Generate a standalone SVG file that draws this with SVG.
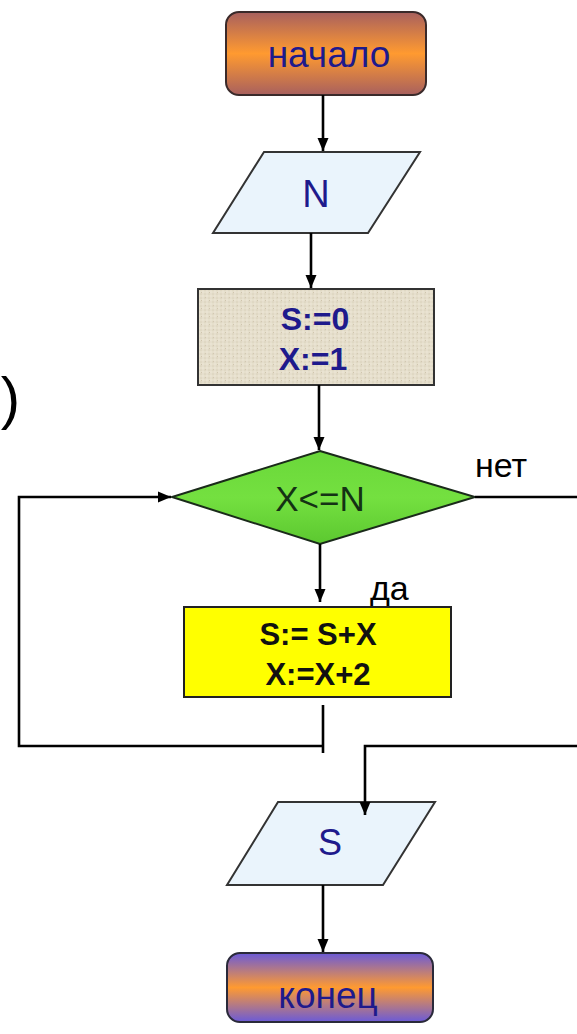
<svg xmlns="http://www.w3.org/2000/svg" width="577" height="1034" viewBox="0 0 577 1034">
<style>
.lbl{font-family:"Liberation Sans",Arial,sans-serif;}
.conn{fill:none;stroke:#000;stroke-width:2.6;}
.box{stroke:#333;stroke-width:2;}
.navy{fill:#1e1a8c;}
</style>
<defs>
<marker id="arr" markerUnits="userSpaceOnUse" markerWidth="14" markerHeight="14" viewBox="0 0 14 14" refX="13" refY="7" orient="auto">
<path d="M0,1.5 L13,7 L0,12.5 Z" fill="#000"/>
</marker>
<linearGradient id="gStart" x1="0" y1="0" x2="0" y2="1">
<stop offset="0" stop-color="#a8605e"/>
<stop offset="0.5" stop-color="#ff9a30"/>
<stop offset="1" stop-color="#a8605e"/>
</linearGradient>
<linearGradient id="gEnd" x1="0" y1="0" x2="0" y2="1">
<stop offset="0" stop-color="#6a5ad8"/>
<stop offset="0.5" stop-color="#ff9a30"/>
<stop offset="1" stop-color="#6a5ad8"/>
</linearGradient>
<linearGradient id="gDia" x1="0" y1="0" x2="0" y2="1">
<stop offset="0" stop-color="#6ad83a"/>
<stop offset="0.5" stop-color="#74e040"/>
<stop offset="1" stop-color="#5cc830"/>
</linearGradient>
<pattern id="tex" width="8" height="8" patternUnits="userSpaceOnUse">
<rect width="8" height="8" fill="#e6dfcc"/>
<path d="M0,2 H8 M0,6 H8" stroke="#d6cdb8" stroke-width="0.8"/>
<path d="M3,0 V8 M7,0 V8" stroke="#efe9da" stroke-width="0.8"/>
<rect x="1" y="4" width="1" height="1" fill="#cfc5ae"/>
<rect x="5" y="1" width="1" height="1" fill="#d2c8b2"/>
</pattern>
</defs>

<g id="start">
<rect x="226" y="12" width="200" height="83" rx="13" fill="url(#gStart)" stroke="#3a2a2a" stroke-width="2"/>
<text class="lbl navy" x="329" y="67" font-size="37" text-anchor="middle">начало</text>
</g>

<g id="inputN">
<polygon class="box" points="264,152 420,152 368,233 213,233" fill="#eaf4fc"/>
<text class="lbl navy" x="316" y="207" font-size="38" text-anchor="middle">N</text>
</g>

<g id="init">
<rect class="box" x="198" y="289" width="236" height="96" fill="url(#tex)"/>
<text class="lbl navy" x="315" y="330" font-size="32" font-weight="bold" text-anchor="middle">S:=0</text>
<text class="lbl navy" x="313" y="370" font-size="32" font-weight="bold" text-anchor="middle">X:=1</text>
</g>

<g id="cond">
<polygon points="320,451 475,497 320,544 172,497" fill="url(#gDia)" stroke="#1a2a1a" stroke-width="2"/>
<text class="lbl" x="320" y="511" font-size="35" text-anchor="middle" fill="#143214">X&lt;=N</text>
<text class="lbl" x="475" y="477" font-size="34" fill="#000">нет</text>
</g>

<g id="body">
<text class="lbl" x="370" y="600" font-size="34" fill="#000">да</text>
<rect x="184" y="607" width="267" height="90" fill="#ffff00" stroke="#222" stroke-width="2"/>
<text class="lbl" x="318" y="645" font-size="31" font-weight="bold" text-anchor="middle" fill="#111">S:= S+X</text>
<text class="lbl" x="318" y="685" font-size="31" font-weight="bold" text-anchor="middle" fill="#111">X:=X+2</text>
</g>

<g id="outputS">
<polygon class="box" points="278,802 435,802 383,885 227,885" fill="#eaf4fc"/>
<text class="lbl navy" x="330" y="855" font-size="36" text-anchor="middle">S</text>
</g>

<g id="end">
<rect x="227" y="953" width="206" height="69" rx="13" fill="url(#gEnd)" stroke="#2a2a3a" stroke-width="2"/>
<text class="lbl navy" x="328" y="1008" font-size="37" text-anchor="middle">конец</text>
</g>

<g id="fragment">
<text class="lbl" x="20" y="418" font-size="58" text-anchor="end" fill="#000">)</text>
</g>

<g id="connectors">
<path class="conn" d="M323,95 V151" marker-end="url(#arr)"/>
<path class="conn" d="M311,233 V288" marker-end="url(#arr)"/>
<path class="conn" d="M319,385 V450" marker-end="url(#arr)"/>
<path class="conn" d="M320,544 V602" marker-end="url(#arr)"/>
<path class="conn" d="M323,705 V753"/>
<path class="conn" d="M323,746 H19 V497 H171" marker-end="url(#arr)"/>
<path class="conn" d="M475,497 H582 V746 H365 V815" marker-end="url(#arr)"/>
<path class="conn" d="M323,885 V952" marker-end="url(#arr)"/>
</g>
</svg>
